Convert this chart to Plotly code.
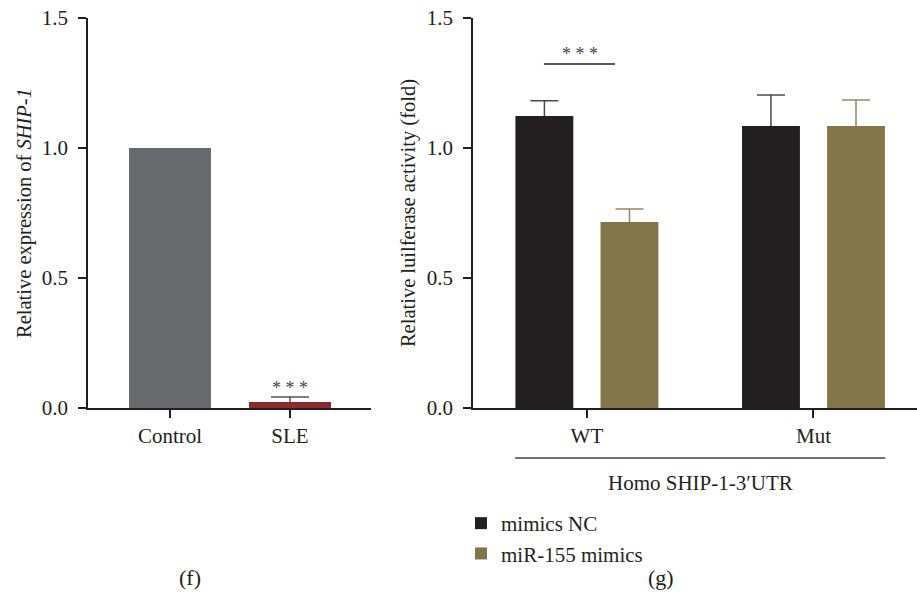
import plotly.graph_objects as go

# ---- data ----
f_categories = ["Control", "SLE"]
f_values = [1.0, 0.023]
f_errors = [0.0, 0.019]
f_colors = ["#68696c", "#8b2b30"]

g_categories = ["WT", "Mut"]
g_nc_values = [1.123, 1.085]
g_nc_errors = [0.059, 0.119]
g_mir_values = [0.715, 1.085]
g_mir_errors = [0.050, 0.100]
g_series = ["mimics NC", "miR-155 mimics"]
g_colors = ["#231f20", "#82754a"]

y_ticks = [0.0, 0.5, 1.0, 1.5]
y_ticktext = ["0.0", "0.5", "1.0", "1.5"]

# the page's default body margin is removed below, so the figure fills the window
W, H = 917, 605
FONT = "Liberation Serif"
TXT = "#231f20"


def px_x(p):
    return p / W


def px_y(p):
    return 1 - p / H


fig = go.Figure()

# ---- panel (f) ----
f_err_x = [c for c, e in zip(f_categories, f_errors) if e > 0]
f_err_v = [v for v, e in zip(f_values, f_errors) if e > 0]
f_err_e = [e for e in f_errors if e > 0]
f_err_c = [c for c, e in zip(f_colors, f_errors) if e > 0]
fig.add_trace(go.Bar(
    x=f_err_x, y=f_err_v, width=0.683, offset=-0.3415, offsetgroup="f",
    marker=dict(color=f_err_c, line=dict(width=0)),
    error_y=dict(type="data", symmetric=False, array=f_err_e, arrayminus=f_err_v,
                 color="#555555", thickness=1.5, width=19),
    showlegend=False, hoverinfo="skip", xaxis="x", yaxis="y"))
fig.add_trace(go.Bar(
    x=f_categories, y=f_values, width=0.683, offset=-0.3415, offsetgroup="f",
    marker=dict(color=f_colors, line=dict(width=0)),
    showlegend=False, xaxis="x", yaxis="y"))

# ---- panel (g) ----
# error-bar carriers (drawn first, visible bars drawn over them hide stems/shoes)
fig.add_trace(go.Bar(
    x=g_categories, y=g_nc_values, offsetgroup="nc", showlegend=False, hoverinfo="skip",
    marker=dict(color=g_colors[0], line=dict(width=0)),
    error_y=dict(type="data", symmetric=False, array=g_nc_errors, arrayminus=g_nc_values,
                 color="#4a4a4a", thickness=1.5, width=14),
    xaxis="x2", yaxis="y2"))
fig.add_trace(go.Bar(
    x=g_categories, y=g_mir_values, offsetgroup="mir", showlegend=False, hoverinfo="skip",
    marker=dict(color=g_colors[1], line=dict(width=0)),
    error_y=dict(type="data", symmetric=False, array=g_mir_errors, arrayminus=g_mir_values,
                 color="#948a66", thickness=1.5, width=14),
    xaxis="x2", yaxis="y2"))
fig.add_trace(go.Bar(
    x=g_categories, y=g_nc_values, name=g_series[0], offsetgroup="nc",
    marker=dict(color=g_colors[0], line=dict(width=0)),
    xaxis="x2", yaxis="y2"))
fig.add_trace(go.Bar(
    x=g_categories, y=g_mir_values, name=g_series[1], offsetgroup="mir",
    marker=dict(color=g_colors[1], line=dict(width=0)),
    xaxis="x2", yaxis="y2"))

ydom = [px_y(408), px_y(18)]

axis_common = dict(showgrid=False, zeroline=False, showline=True, linecolor=TXT, linewidth=1.5,
                   ticks="outside", ticklen=8, tickwidth=1.5, tickcolor=TXT,
                   ticklabeloverflow="allow",
                   tickfont=dict(family=FONT, size=21, color=TXT))

fig.update_layout(
    width=W, height=H, autosize=False,
    margin=dict(l=0, r=0, t=0, b=0, pad=0, autoexpand=False),
    paper_bgcolor="white", plot_bgcolor="white",
    barmode="group", bargap=0.249, bargroupgap=0.324,
    font=dict(family=FONT, size=20, color=TXT),
    xaxis=dict(domain=[px_x(88), px_x(371)], range=[-0.683, 1.675], anchor="y",
               categoryorder="array", categoryarray=f_categories,
               ticklabelstandoff=0, **axis_common),
    yaxis=dict(domain=ydom, range=[0, 1.5], anchor="x", tickvals=y_ticks, ticktext=y_ticktext,
               ticklabelstandoff=6,
               title=dict(text="Relative expression of <i>SHIP-1</i>", standoff=5,
                          font=dict(family=FONT, size=20.5, color=TXT)),
               **axis_common),
    xaxis2=dict(domain=[px_x(473), 1.0], range=[-0.503, 1.457], anchor="y2",
                categoryorder="array", categoryarray=g_categories,
                ticklabelstandoff=0, **axis_common),
    yaxis2=dict(domain=ydom, range=[0, 1.5], anchor="x2", tickvals=y_ticks, ticktext=y_ticktext,
                ticklabelstandoff=6,
                title=dict(text="Relative luilferase activity (fold)", standoff=6,
                           font=dict(family=FONT, size=20.5, color=TXT)),
                **axis_common),
    legend=dict(x=px_x(461), y=px_y(503), xanchor="left", yanchor="top",
                font=dict(family=FONT, size=21, color=TXT), bgcolor="rgba(0,0,0,0)",
                traceorder="normal", itemclick=False),
    showlegend=True,
)

# significance markers
fig.add_annotation(x="SLE", y=0.077, xref="x", yref="y", text="* * *", showarrow=False,
                   xanchor="center", yanchor="middle",
                   font=dict(family=FONT, size=18, color="#444444"))
fig.add_shape(type="line", xref="x2", yref="y2", x0=-0.19, x1=0.124, y0=1.323, y1=1.323,
              line=dict(color=TXT, width=1.5))
fig.add_annotation(x=-0.03, y=1.362, xref="x2", yref="y2", text="* * *", showarrow=False,
                   xanchor="center", yanchor="middle",
                   font=dict(family=FONT, size=18, color="#444444"))

# group bracket
fig.add_shape(type="line", xref="x2", yref="paper", x0=-0.317, x1=1.317,
              y0=px_y(458), y1=px_y(458), line=dict(color="#444444", width=1.5))
fig.add_annotation(x=0.5, y=px_y(483), xref="x2", yref="paper", text="Homo SHIP-1-3′UTR",
                   showarrow=False, xanchor="center", yanchor="middle",
                   font=dict(family=FONT, size=21, color=TXT))

# panel labels
fig.add_annotation(x=px_x(190), y=px_y(577), xref="paper", yref="paper", text="(f)",
                   showarrow=False, xanchor="center", yanchor="middle",
                   font=dict(family=FONT, size=22, color=TXT))
fig.add_annotation(x=px_x(661), y=px_y(577), xref="paper", yref="paper", text="(g)",
                   showarrow=False, xanchor="center", yanchor="middle",
                   font=dict(family=FONT, size=22, color=TXT))

fig.write_html("out.html", config={"displayModeBar": False},
               post_script="document.body.style.margin='0';")
